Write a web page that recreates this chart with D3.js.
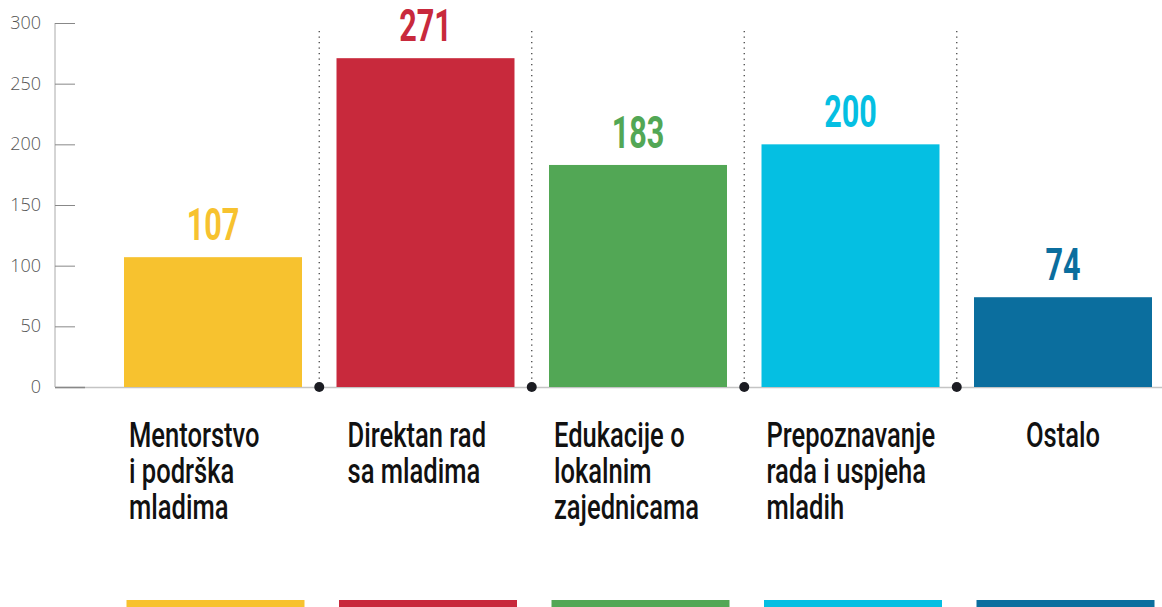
<!DOCTYPE html>
<html>
<head>
<meta charset="utf-8">
<script src="https://cdn.jsdelivr.net/npm/d3@7"></script>
<style>
  html, body { margin: 0; padding: 0; background: #fff; }
  svg { display: block; }
  .tick-label { font-family: "Open Sans", sans-serif; font-weight: 300; font-size: 18px; fill: #555; }
  .value { font-family: Roboto, sans-serif; font-weight: bold; font-size: 45px; }
  .cat { font-family: Roboto, sans-serif; font-weight: 500; font-size: 35px; fill: #111; }
</style>
</head>
<body>
<svg id="chart" width="1162" height="607"></svg>
<script>
const categories = ["Mentorstvo|i podrška|mladima", "Direktan rad|sa mladima", "Edukacije o|lokalnim|zajednicama", "Prepoznavanje|rada i uspjeha|mladih", "Ostalo"];
const values = [107, 271, 183, 200, 74];
const colors = ["#f7c22f", "#c8293c", "#52a755", "#05bfe2", "#0b6e9e"];
const yTicks = [0, 50, 100, 150, 200, 250, 300];

// condensed look: the wide fonts are squeezed sideways
const VALUE_SQUEEZE = 0.68;
const CAT_SQUEEZE = 0.73;

const svg = d3.select("#chart");

const x = d3.scaleBand().domain(categories).range([124, 1152]).paddingInner(0.1624).paddingOuter(0);
const y = d3.scaleLinear().domain([0, 300]).range([387, 23]);
const gap = x.step() - x.bandwidth();

// y axis
svg.append("line")
    .attr("x1", 55).attr("x2", 55)
    .attr("y1", y(300)).attr("y2", y(0))
    .attr("stroke", "#aaa").attr("stroke-width", 1);

svg.selectAll("line.tick")
    .data(yTicks)
    .enter().append("line")
    .attr("class", "tick")
    .attr("x1", 55).attr("x2", 75)
    .attr("y1", (d) => y(d) + 0.5).attr("y2", (d) => y(d) + 0.5)
    .attr("stroke", "#888").attr("stroke-width", 1);

svg.selectAll("text.tick-label")
    .data(yTicks)
    .enter().append("text")
    .attr("class", "tick-label")
    .attr("x", 41)
    .attr("y", (d) => y(d) + 6)
    .attr("text-anchor", "end")
    .text((d) => d);

// baseline
svg.append("line")
    .attr("x1", 55).attr("x2", 1162)
    .attr("y1", y(0) + 0.5).attr("y2", y(0) + 0.5)
    .attr("stroke", "#c4c4c4").attr("stroke-width", 1.5);
svg.append("line")
    .attr("x1", 55).attr("x2", 85)
    .attr("y1", y(0) + 0.5).attr("y2", y(0) + 0.5)
    .attr("stroke", "#888").attr("stroke-width", 1.5);

// bars
svg.selectAll("rect.bar")
    .data(values)
    .enter().append("rect")
    .attr("class", "bar")
    .attr("x", (d, i) => x(categories[i]))
    .attr("y", (d) => y(d))
    .attr("width", x.bandwidth())
    .attr("height", (d) => y(0) - y(d))
    .attr("fill", (d, i) => colors[i]);

// value labels
svg.selectAll("text.value")
    .data(values)
    .enter().append("text")
    .attr("class", "value")
    .attr("transform", (d, i) => "translate(" + (x(categories[i]) + x.bandwidth() / 2) + "," + (y(d) - 17) + ") scale(" + VALUE_SQUEEZE + ",1)")
    .attr("text-anchor", "middle")
    .attr("fill", (d, i) => colors[i])
    .text((d) => d);

// dotted separators with dots at the base
const seps = categories.slice(1);
svg.selectAll("line.sep")
    .data(seps)
    .enter().append("line")
    .attr("class", "sep")
    .attr("x1", (d) => x(d) - gap / 2).attr("x2", (d) => x(d) - gap / 2)
    .attr("y1", 31).attr("y2", y(0))
    .attr("stroke", "#444").attr("stroke-width", 1.3)
    .attr("stroke-dasharray", "1.3,4.2");

svg.selectAll("circle.sep")
    .data(seps)
    .enter().append("circle")
    .attr("class", "sep")
    .attr("cx", (d) => x(d) - gap / 2)
    .attr("cy", y(0))
    .attr("r", 5)
    .attr("fill", "#1b1c22");

// category labels
const labels = svg.selectAll("text.cat")
    .data(categories)
    .enter().append("text")
    .attr("class", "cat")
    .attr("text-anchor", (d, i) => i === categories.length - 1 ? "middle" : "start")
    .attr("transform", (d, i) => {
        const lx = i === categories.length - 1 ? x(d) + x.bandwidth() / 2 : x(d) + (i === 1 ? 11 : 5);
        return "translate(" + lx + ",447) scale(" + CAT_SQUEEZE + ",1)";
    });

labels.selectAll("tspan")
    .data((d) => d.split("|"))
    .enter().append("tspan")
    .attr("x", 0)
    .attr("y", (d, j) => j * 36)
    .text((d) => d);

// bottom colour strips
svg.selectAll("rect.strip")
    .data(categories)
    .enter().append("rect")
    .attr("class", "strip")
    .attr("x", (d) => x(d) + 2.5)
    .attr("y", 600)
    .attr("width", x.bandwidth())
    .attr("height", 7)
    .attr("fill", (d, i) => colors[i]);
</script>
</body>
</html>
